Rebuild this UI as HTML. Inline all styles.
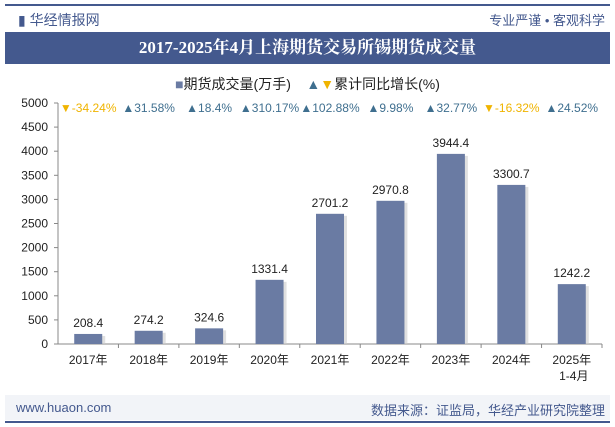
<!DOCTYPE html>
<html><head><meta charset="utf-8"><style>
body{margin:0;width:615px;height:427px;background:#fff;font-family:"Liberation Sans","Noto Sans CJK SC",sans-serif;overflow:hidden;position:relative}
.abs{position:absolute}
</style></head><body>
<div class="abs" style="left:5px;top:4px;width:605px;height:2px;background:#44598e"></div>
<div class="abs" style="left:18px;top:10px;font-size:14px;color:#44598e">▮ 华经情报网</div>
<div class="abs" style="right:10px;top:10px;font-size:13px;color:#44598e">专业严谨 • 客观科学</div>
<div class="abs" style="left:5px;top:32px;width:605px;height:32px;background:#44598e;color:#fff;font:bold 17px 'Liberation Serif','Noto Serif CJK SC',serif;text-align:center;line-height:32px">2017-2025年4月上海期货交易所锡期货成交量</div>
<div class="abs" style="left:0;width:615px;top:74px;text-align:center;font-size:14px;color:#222"><span style="color:#6a7ba3">■</span>期货成交量(万手) &nbsp; &nbsp;<span style="color:#3f6f8f">▲</span><span style="color:#f0b400">▼</span>累计同比增长(%)</div>
<div class="abs" style="left:5px;top:395px;width:605px;height:25px;background:#f2f4f8"></div>
<div class="abs" style="left:16px;top:400px;font-size:13px;color:#44598e">www.huaon.com</div>
<div class="abs" style="right:10px;top:400px;font-size:13px;color:#44598e">数据来源：证监局，华经产业研究院整理</div>
<div class="abs" style="left:5px;top:421px;width:605px;height:2px;background:#44598e"></div>
<svg class="abs" style="left:0;top:0" width="615" height="427" id="chart"></svg>
<script>
const categories=["2017年","2018年","2019年","2020年","2021年","2022年","2023年","2024年","2025年"];
const values=[208.4,274.2,324.6,1331.4,2701.2,2970.8,3944.4,3300.7,1242.2];
const growth=[-34.24,31.58,18.4,310.17,102.88,9.98,32.77,-16.32,24.52];
const yTicks=[0,500,1000,1500,2000,2500,3000,3500,4000,4500,5000];
const X0=58,X1=602,Y0=344,Y1=103,YMAX=5000;
const bw=(X1-X0)/categories.length;
const xc=i=>X0+bw*(i+0.5);
const y=v=>Y0-(v/YMAX)*(Y0-Y1);
const svg=document.getElementById('chart');
const NS='http://www.w3.org/2000/svg';
function mk(t,a,txt){const e=document.createElementNS(NS,t);for(const k in a)e.setAttribute(k,a[k]);if(txt!=null)e.textContent=txt;svg.appendChild(e);return e;}
let e=mk('line',{x1:X0,x2:X0,y1:Y1,y2:Y0,stroke:'#888'});

e=mk('line',{x1:X0,x2:X1,y1:Y0,y2:Y0,stroke:'#888'});

yTicks.forEach(t=>{
 e=mk('text',{x:X0-10,y:y(t)+4,'text-anchor':'end','font-size':12,fill:'#222'},t);
 
 mk('line',{x1:X0-4,x2:X0,y1:y(t),y2:y(t),stroke:'#888'});
});
categories.forEach((c,i)=>{
 const cx=xc(i);
 mk('line',{x1:X0+bw*(i+1),x2:X0+bw*(i+1),y1:Y0,y2:Y0+4,stroke:'#888'});
 mk('rect',{x:cx-14+3,y:y(values[i])+2,width:28,height:Y0-y(values[i])-2,fill:'#ccc',opacity:0.6});
 e=mk('rect',{x:cx-14,y:y(values[i]),width:28,height:Y0-y(values[i]),fill:'#6a7ba3'});
 
 e=mk('text',{x:cx,y:y(values[i])-7,'text-anchor':'middle','font-size':12,fill:'#222'},values[i]);
 
 e=mk('text',{x:cx,y:364,'text-anchor':'middle','font-size':12,fill:'#222'},c);
 
 if(i==categories.length-1){e=mk('text',{x:cx+2,y:380,'text-anchor':'middle','font-size':12,fill:'#222'},'1-4月');
 }
 const g=growth[i],up=g>=0;
 e=mk('text',{x:cx,y:112,'text-anchor':'middle','font-size':12,fill:up?'#3f6f8f':'#f0b400'},(up?'▲':'▼')+g+'%');
 
});
</script>
</body></html>
